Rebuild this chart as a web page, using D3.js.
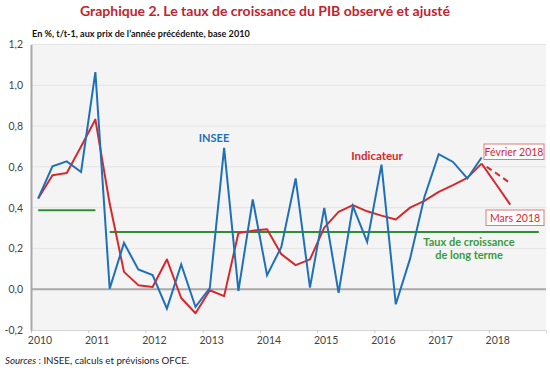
<!DOCTYPE html>
<html>
<head>
<meta charset="utf-8">
<script src="https://cdn.jsdelivr.net/npm/d3@7"></script>
<style>
    body { margin: 0; background: #fff; }
    svg text { font-family: Lato, "Open Sans", sans-serif; }
</style>
</head>
<body>
<div id="chart"></div>
<script>

// Quarterly data, 2010Q1 .. 2017Q4 (index 0 .. 31)
const years = [2010, 2011, 2012, 2013, 2014, 2015, 2016, 2017, 2018];
const yTicks = [-0.2, 0, 0.2, 0.4, 0.6, 0.8, 1.0, 1.2];

const insee = [
    0.445, 0.603, 0.627, 0.575, 1.065, 0.003, 0.227, 0.097,
    0.069, -0.095, 0.121, -0.087, 0.006, 0.693, -0.008, 0.44,
    0.069, 0.207, 0.543, 0.008, 0.399, -0.018, 0.407, 0.232,
    0.611, -0.074, 0.15, 0.452, 0.662, 0.624, 0.543, 0.646
];
const indicateur = [
    0.445, 0.559, 0.57, 0.70, 0.832, 0.42, 0.085, 0.02,
    0.011, 0.146, -0.043, -0.118, -0.005, -0.034, 0.276, 0.287,
    0.294, 0.172, 0.118, 0.146, 0.302, 0.379, 0.412, 0.382,
    0.361, 0.342, 0.40, 0.433, 0.477, 0.51, 0.546, 0.616
];
// Forecasts for 2018Q1 and 2018Q2
const fevrier2018 = [0.57, 0.52];
const mars2018 = [0.516, 0.415];

// Long-term growth rate: [first quarter, last quarter, rate]
const longTermFrom = [0, 5];
const longTermTo = [4, 35];
const longTermRate = [0.387, 0.281];

const W = 550, H = 370;
const plot = {left: 31, right: 546, top: 44.5, bottom: 330};

const blue = "#1f70b7", red = "#d42a2f", green = "#2f8f35";

const svg = d3.select("#chart").append("svg")
    .attr("width", W)
    .attr("height", H);

// Scales: one unit per quarter, points at quarter centres
const x = d3.scaleLinear().domain([0, 36]).range([plot.left, plot.right]);
const xq = i => x(i + 0.5);
const xYear = d3.scaleLinear().domain([2010, 2019]).range([plot.left, plot.right]);
const y = d3.scaleLinear().domain([-0.2, 1.2]).range([plot.bottom, plot.top]);

// Title and subtitle
svg.append("text")
    .attr("x", 265).attr("y", 16)
    .attr("text-anchor", "middle")
    .attr("fill", "#be2530")
    .style("font-size", "14px")
    .style("font-weight", 700)
    .text("Graphique 2. Le taux de croissance du PIB observé et ajusté");

svg.append("text")
    .attr("x", 32).attr("y", 37)
    .attr("fill", "#111")
    .style("font-size", "9.1px")
    .style("font-weight", 700)
    .text("En %, t/t-1, aux prix de l\u2019année précédente, base 2010");

// Plot background
svg.append("rect")
    .attr("x", plot.left).attr("y", plot.top)
    .attr("width", plot.right - plot.left)
    .attr("height", plot.bottom - plot.top)
    .attr("fill", "#f4f4f4");

// Gridlines
svg.append("g")
    .selectAll("line")
    .data(yTicks.filter(d => d > 0))
    .join("line")
    .attr("x1", plot.left).attr("x2", plot.right)
    .attr("y1", d => y(d)).attr("y2", d => y(d))
    .attr("stroke", "#e4e4e4")
    .attr("stroke-width", 1);

// Bottom axis (years)
const xAxis = d3.axisBottom(xYear)
    .tickValues(years)
    .tickFormat(d3.format("d"))
    .tickSize(3)
    .tickPadding(4);

const gx = svg.append("g")
    .attr("transform", "translate(0," + plot.bottom + ")")
    .call(xAxis);
gx.select(".domain").attr("stroke", "#d6d6d6");
gx.selectAll(".tick line").attr("stroke", "#c8c8c8");
gx.selectAll(".tick text")
    .attr("dx", 8.5)
    .attr("fill", "#444")
    .style("font-size", "10.5px")
    .style("font-family", "Lato, sans-serif");

// Left axis
const yAxis = d3.axisLeft(y)
    .tickValues(yTicks)
    .tickFormat(d => d.toFixed(1).replace(".", ","))
    .tickSize(0)
    .tickPadding(8);

const gy = svg.append("g")
    .attr("transform", "translate(" + plot.left + ",0)")
    .call(yAxis);
gy.select(".domain").attr("stroke", "#a8a8a8").attr("stroke-width", 2);
gy.selectAll(".tick text")
    .attr("fill", "#444")
    .style("font-size", "10.5px")
    .style("font-family", "Lato, sans-serif");

// Zero line
svg.append("line")
    .attr("x1", plot.left).attr("x2", plot.right)
    .attr("y1", y(0)).attr("y2", y(0))
    .attr("stroke", "#a8a8a8")
    .attr("stroke-width", 2);

// Long-term growth segments
svg.append("g")
    .selectAll("line")
    .data(longTermRate)
    .join("line")
    .attr("x1", (d, i) => xq(longTermFrom[i]))
    .attr("x2", (d, i) => xq(longTermTo[i]))
    .attr("y1", d => y(d)).attr("y2", d => y(d))
    .attr("stroke", green)
    .attr("stroke-width", 2);

const line = d3.line()
    .x(d => xq(d.i))
    .y(d => y(d.v));

const toPoints = (arr, start) => arr.map((v, k) => ({i: start + k, v: v}));

const last = indicateur.length - 1;

// Forecasts (February dashed, March solid)
svg.append("path")
    .attr("d", line(toPoints([indicateur[last]].concat(fevrier2018), last)))
    .attr("fill", "none")
    .attr("stroke", red)
    .attr("stroke-width", 2)
    .attr("stroke-dasharray", "0,6,6,4,6,4,6,4,6,4");

svg.append("path")
    .attr("d", line(toPoints([indicateur[last]].concat(mars2018), last)))
    .attr("fill", "none")
    .attr("stroke", red)
    .attr("stroke-width", 2);

// Indicator
svg.append("path")
    .attr("d", line(toPoints(indicateur, 0)))
    .attr("fill", "none")
    .attr("stroke", red)
    .attr("stroke-width", 2)
    .attr("stroke-linejoin", "round");

// INSEE
svg.append("path")
    .attr("d", line(toPoints(insee, 0)))
    .attr("fill", "none")
    .attr("stroke", blue)
    .attr("stroke-width", 2)
    .attr("stroke-linejoin", "miter");

// Series labels
svg.append("text")
    .attr("x", 214).attr("y", 141.5)
    .attr("text-anchor", "middle")
    .attr("fill", blue)
    .style("font-size", "11px")
    .style("font-weight", 700)
    .text("INSEE");

svg.append("text")
    .attr("x", 377).attr("y", 160)
    .attr("text-anchor", "middle")
    .attr("fill", red)
    .style("font-size", "11.5px")
    .style("font-weight", 700)
    .text("Indicateur");

const green2 = "#3a9a3e";
svg.append("text")
    .attr("x", 469).attr("y", 245.5)
    .attr("text-anchor", "middle")
    .attr("fill", green2)
    .style("font-size", "11px")
    .style("font-weight", 700)
    .text("Taux de croissance");
svg.append("text")
    .attr("x", 469).attr("y", 258.5)
    .attr("text-anchor", "middle")
    .attr("fill", green2)
    .style("font-size", "11px")
    .style("font-weight", 700)
    .text("de long terme");

// Boxed forecast labels
function boxLabel(label, cx, top, w, h) {
    svg.append("rect")
        .attr("x", cx - w / 2).attr("y", top)
        .attr("width", w).attr("height", h)
        .attr("fill", "#fff")
        .attr("stroke", "#e07a7a")
        .attr("stroke-width", 1);
    svg.append("text")
        .attr("x", cx).attr("y", top + h - 4)
        .attr("text-anchor", "middle")
        .attr("fill", red)
        .style("font-size", "10.5px")
        .text(label);
}
boxLabel("Février 2018", 514, 144, 60, 15.5);
boxLabel("Mars 2018", 515, 210, 58, 15.5);

// Sources
const src = svg.append("text")
    .attr("x", 5).attr("y", 364)
    .attr("fill", "#222")
    .style("font-size", "9.7px");
src.append("tspan").style("font-style", "italic").text("Sources");
src.append("tspan").text(" : INSEE, calculs et prévisions OFCE.");

</script>
</body>
</html>
